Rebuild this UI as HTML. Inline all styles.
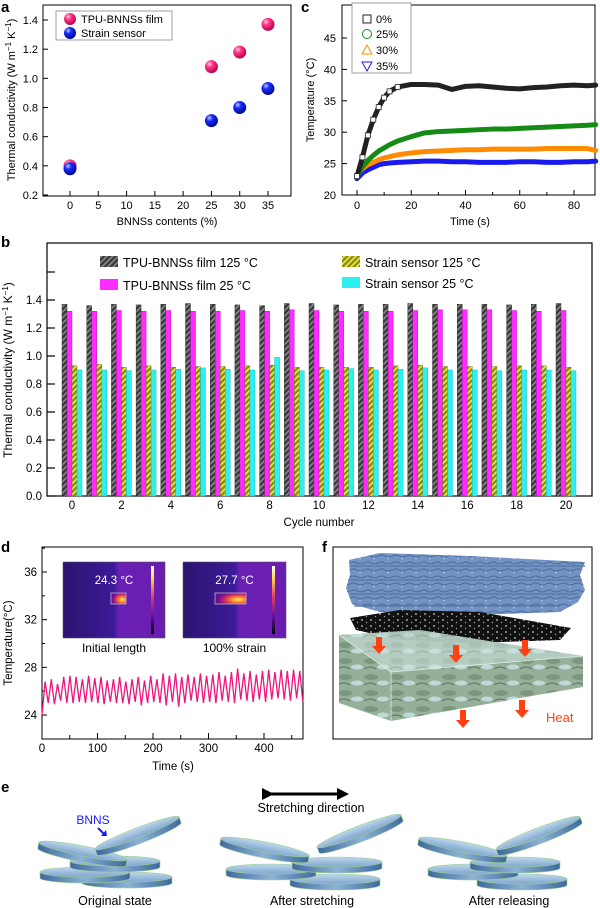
<!DOCTYPE html>
<html><head><meta charset="utf-8"><style>
html,body{margin:0;padding:0;background:#fff}
svg{display:block;font-family:"Liberation Sans",Arial,sans-serif}
</style></head><body>
<svg id="fig" width="600" height="908" viewBox="0 0 600 908" xmlns="http://www.w3.org/2000/svg">
<defs>
<radialGradient id="gPink" cx="35%" cy="30%" r="70%"><stop offset="0" stop-color="#ffd0e4"/><stop offset="0.35" stop-color="#ff3c8c"/><stop offset="1" stop-color="#c0004c"/></radialGradient>
<radialGradient id="gBlue" cx="35%" cy="30%" r="70%"><stop offset="0" stop-color="#c8d0ff"/><stop offset="0.35" stop-color="#1a2cff"/><stop offset="1" stop-color="#000a90"/></radialGradient>
<pattern id="hK" width="4" height="4" patternUnits="userSpaceOnUse" patternTransform="rotate(45)"><rect width="4" height="4" fill="#3a3a3a"/><rect width="1.6" height="4" fill="#8a8a8a"/></pattern>
<pattern id="hY" width="4" height="4" patternUnits="userSpaceOnUse" patternTransform="rotate(45)"><rect width="4" height="4" fill="#8c8a1c"/><rect width="1.6" height="4" fill="#f0ee40"/></pattern>
<linearGradient id="gIR" x1="0" x2="1"><stop offset="0" stop-color="#2a1470"/><stop offset="0.5" stop-color="#3c1a96"/><stop offset="0.55" stop-color="#6a20b4"/><stop offset="1" stop-color="#6a1cb0"/></linearGradient>
<linearGradient id="gCB" x1="0" y1="0" x2="0" y2="1"><stop offset="0" stop-color="#fffff0"/><stop offset="0.2" stop-color="#ffd040"/><stop offset="0.45" stop-color="#e04060"/><stop offset="0.75" stop-color="#6010a0"/><stop offset="1" stop-color="#000"/></linearGradient>
<radialGradient id="gHot" cx="75%" cy="60%" r="70%"><stop offset="0" stop-color="#fff080"/><stop offset="0.3" stop-color="#ff9020"/><stop offset="0.7" stop-color="#c02070"/><stop offset="1" stop-color="#601090"/></radialGradient>
<linearGradient id="gDisc" x1="0" y1="0" x2="0" y2="1"><stop offset="0" stop-color="#c0d8ee"/><stop offset="1" stop-color="#7ea6cc"/></linearGradient>
<linearGradient id="gDiscSide" x1="0" y1="0" x2="1" y2="0"><stop offset="0" stop-color="#3e6a9c"/><stop offset="0.5" stop-color="#8cb2d6"/><stop offset="1" stop-color="#3e6a9c"/></linearGradient>
<pattern id="pBlk" width="9" height="6" patternUnits="userSpaceOnUse"><rect width="9" height="6" fill="#111"/><circle cx="2" cy="2" r="0.9" fill="#ccc"/><circle cx="6.5" cy="4.5" r="0.7" fill="#999"/></pattern>
<pattern id="pBlue" width="14" height="7" patternUnits="userSpaceOnUse"><rect width="14" height="7" fill="#7393c4"/><path d="M0 3 q4 -2 7 0 t7 0" stroke="#4a6a9c" stroke-width="1" fill="none"/><circle cx="10" cy="5.5" r="1" fill="#a6bee0"/></pattern>
<pattern id="pGreen" width="26" height="16" patternUnits="userSpaceOnUse"><rect width="26" height="16" fill="#8aa68e"/><ellipse cx="7" cy="5" rx="7" ry="3" fill="#6e8a72"/><ellipse cx="19" cy="11" rx="6" ry="2.5" fill="#b4d6d2"/><path d="M0 13 q6 -4 12 0" stroke="#4a6250" stroke-width="1" fill="none"/></pattern>
<marker id="arrE" viewBox="0 0 10 10" refX="5" refY="5" markerWidth="4" markerHeight="4" orient="auto"><path d="M0 0L10 5L0 10z" fill="#000"/></marker>
</defs>

<g font-weight="bold" font-size="15">
<text x="1" y="12">a</text>
<text x="301" y="12">c</text>
<text x="1" y="247">b</text>
<text x="1" y="552">d</text>
<text x="322" y="552">f</text>
<text x="1" y="792">e</text>
</g>

<g id="pa"></g>
<g id="pc"></g>
<g id="pb"></g>
<g id="pd"></g>

<g>
<rect x="333" y="547" width="259" height="192" fill="#fff" stroke="#000" stroke-width="1"/>
<path d="M349 560 L380 553 L470 556 L585 562 L580 575 L585 590 L578 602 L560 612 L470 615 L380 612 L352 604 L346 588 L350 575 Z" fill="url(#pBlue)"/>
<path d="M350 566 L585 566 M348 580 L582 580 M350 594 L578 594 M354 606 L560 606" stroke="#5676a8" stroke-width="1.2" fill="none"/>
<path d="M350 618 L400 610 L480 612 L571 628 L560 640 L470 643 L400 640 L356 630 Z" fill="url(#pBlk)"/>
<path d="M339 635 L420 630 L583 656 L583 687 L391 721 L339 703 Z" fill="url(#pGreen)" opacity="0.9"/>
<path d="M339 635 L420 630 L583 656 L391 672 Z" fill="#cfe6e2" opacity="0.55"/>
<path d="M391 672 L583 656 M391 672 L339 635 M391 672 L391 721" stroke="#dfeee8" stroke-width="0.8" fill="none"/>
<g fill="#ff4012">
<path d="M376 637 h6 v9 h4 l-7 8 l-7 -8 h4 z"/>
<path d="M453 645 h6 v10 h4 l-7 8 l-7 -8 h4 z"/>
<path d="M522 640 h6 v9 h4 l-7 8 l-7 -8 h4 z"/>
<path d="M460 710 h6 v10 h4 l-7 8 l-7 -8 h4 z"/>
<path d="M519 700 h6 v10 h4 l-7 8 l-7 -8 h4 z"/>
</g>
<text x="546" y="722" font-size="13" fill="#ff4012">Heat</text>
</g>

<g id="pe">
<line x1="268" y1="794" x2="343" y2="794" stroke="#000" stroke-width="3" marker-start="url(#arrE)" marker-end="url(#arrE)"/>
<text x="311" y="812" font-size="12.5" text-anchor="middle">Stretching direction</text>
<text x="93" y="824" font-size="12" fill="#1a1aff" text-anchor="middle">BNNS</text>
<path d="M98 828 L104 834" stroke="#1a1aff" stroke-width="2"/><path d="M101 836 L107 836 L106 830 Z" fill="#1a1aff"/>
<text x="115" y="905" font-size="12.5" text-anchor="middle">Original state</text>
<text x="312" y="905" font-size="12.5" text-anchor="middle">After stretching</text>
<text x="509" y="905" font-size="12.5" text-anchor="middle">After releasing</text>
</g>

<script>
var NS='http://www.w3.org/2000/svg';
function mk(parent,tag,attrs,txt){var e=document.createElementNS(NS,tag);for(var k in attrs)e.setAttribute(k,attrs[k]);if(txt!=null)e.textContent=txt;parent.appendChild(e);return e;}
function unitTitle(t){
mk(t,'tspan',{},'Thermal conductivity (W m');
mk(t,'tspan',{dy:-4,'font-size':8},'−1');
mk(t,'tspan',{dy:4},' K');
mk(t,'tspan',{dy:-4,'font-size':8},'−1');
mk(t,'tspan',{dy:4},')');
}

/* ===== Panel a data ===== */
var aX=[0,25,30,35];
var aFilm=[0.40,1.08,1.18,1.37];
var aSensor=[0.38,0.71,0.80,0.93];
var aXTicks=[0,5,10,15,20,25,30,35];
var aYTicks=[0.2,0.4,0.6,0.8,1.0,1.2,1.4];

/* ===== Panel c data ===== */
var cT=[0,2,4,6,8,10,12,15,20,25,30,35,40,45,50,55,60,65,70,75,80,85,88];
var c0=[23,26,29.5,32,34,35.5,36.5,37.2,37.6,37.6,37.5,36.8,37.3,37.4,37.2,37.0,36.9,37.1,37.2,37.4,37.5,37.4,37.5];
var c25=[23,24.5,25.5,26.3,27,27.5,28,28.6,29.3,29.9,30.1,30.2,30.3,30.4,30.5,30.5,30.6,30.7,30.8,30.9,31.0,31.1,31.2];
var c30=[23.2,24.2,24.8,25.2,25.6,25.9,26.1,26.4,26.7,26.9,27.0,27.1,27.2,27.2,27.3,27.3,27.3,27.3,27.4,27.4,27.4,27.4,27.1];
var c35=[22.6,23.5,24.0,24.4,24.8,25.0,25.1,25.2,25.3,25.4,25.4,25.3,25.3,25.2,25.2,25.2,25.3,25.3,25.2,25.2,25.3,25.3,25.4];
var cXTicks=[0,20,40,60,80];
var cYTicks=[20,25,30,35,40,45];
var cLegend=['0%','25%','30%','35%'];

/* ===== Panel b data ===== */
var bCycles=[0,1,2,3,4,5,6,7,8,9,10,11,12,13,14,15,16,17,18,19,20];
var bFilm125=[1.37,1.36,1.37,1.365,1.37,1.375,1.37,1.365,1.36,1.375,1.375,1.365,1.37,1.37,1.375,1.37,1.37,1.37,1.365,1.37,1.375];
var bFilm25=[1.32,1.32,1.325,1.32,1.325,1.32,1.32,1.325,1.32,1.33,1.325,1.32,1.32,1.32,1.325,1.33,1.33,1.33,1.325,1.32,1.325];
var bSens125=[0.93,0.94,0.92,0.93,0.92,0.925,0.925,0.93,0.935,0.92,0.92,0.92,0.92,0.93,0.935,0.925,0.925,0.925,0.93,0.93,0.92];
var bSens25=[0.90,0.90,0.895,0.90,0.905,0.915,0.905,0.90,0.99,0.895,0.90,0.91,0.90,0.905,0.915,0.90,0.90,0.895,0.90,0.90,0.895];
var bXTicks=[0,2,4,6,8,10,12,14,16,18,20];
var bYTicks=[0.0,0.2,0.4,0.6,0.8,1.0,1.2,1.4];

/* ===== Panel d data ===== */
var dTemp=[24.0,26.8,25.0,27.0,24.9,26.6,25.2,27.2,25.0,27.3,25.0,27.2,25.1,27.0,25.0,27.3,25.1,27.1,25.0,27.2,24.9,26.9,25.1,27.0,25.0,27.2,25.0,26.8,24.9,27.0,25.1,27.2,24.8,26.9,25.0,27.3,25.1,27.0,25.0,27.5,24.8,27.3,25.1,27.5,24.7,27.2,25.0,27.4,25.2,27.2,25.1,27.5,25.0,27.3,25.1,27.4,25.0,27.6,25.2,27.3,25.1,27.6,25.0,27.9,25.3,27.5,25.2,27.7,25.1,27.4,25.3,27.7,25.1,27.8,25.3,27.6,25.4,27.8,25.3,27.7,25.2,27.8,25.4,27.7,25.1];
var dDuration=470;
var dXTicks=[0,100,200,300,400];
var dYTicks=[24,28,32,36];

/* ----- Panel a ----- */
(function(){
var g=document.getElementById('pa');
function X(v){return 70+v*(198/35);}
function Y(v){return 195-(v-0.2)*(175/1.2);}
var f=mk(g,'rect',{x:43,y:5,width:248,height:191,fill:'none',stroke:'#000','stroke-width':1});

aYTicks.forEach(function(v){mk(g,'line',{x1:43,x2:48,y1:Y(v),y2:Y(v),stroke:'#000'});
var t=mk(g,'text',{x:38,y:Y(v)+4,'font-size':11,'text-anchor':'end'},v.toFixed(1));
});
aXTicks.forEach(function(v){mk(g,'line',{x1:X(v),x2:X(v),y1:196,y2:191,stroke:'#000'});
var t=mk(g,'text',{x:X(v),y:209,'font-size':11,'text-anchor':'middle'},String(v));
});
var xt=mk(g,'text',{x:167,y:225,'font-size':11,'text-anchor':'middle'},'BNNSs contents (%)');

var yt=mk(g,'text',{'font-size':11,'text-anchor':'middle',transform:'translate(15,100) rotate(-90)'});

unitTitle(yt);
aX.forEach(function(x,i){var c=mk(g,'circle',{cx:X(x),cy:Y(aFilm[i]),r:6.5,fill:'url(#gPink)'});
});
aX.forEach(function(x,i){var c=mk(g,'circle',{cx:X(x),cy:Y(aSensor[i]),r:6.5,fill:'url(#gBlue)'});
});
var lg=mk(g,'g',{});
mk(lg,'rect',{x:56,y:11,width:116,height:29,fill:'#fff',stroke:'#888','stroke-width':0.8});
mk(lg,'circle',{cx:70,cy:19,r:6,fill:'url(#gPink)'});
mk(lg,'text',{x:81,y:23,'font-size':11},'TPU-BNNSs film');
mk(lg,'circle',{cx:70,cy:33,r:6,fill:'url(#gBlue)'});
mk(lg,'text',{x:81,y:37,'font-size':11},'Strain sensor');
})();

/* ----- Panel c ----- */
(function(){
var g=document.getElementById('pc');
function X(v){return 357+v*(217/80);}
function Y(v){return 195-(v-20)*(157/25);}
var f=mk(g,'rect',{x:342,y:5,width:253,height:190,fill:'none',stroke:'#000'});

cYTicks.forEach(function(v){mk(g,'line',{x1:342,x2:347,y1:Y(v),y2:Y(v),stroke:'#000'});
var t=mk(g,'text',{x:336,y:Y(v)+4,'font-size':11,'text-anchor':'end'},String(v));
});
cXTicks.forEach(function(v){mk(g,'line',{x1:X(v),x2:X(v),y1:195,y2:190,stroke:'#000'});
mk(g,'line',{x1:X(v+10),x2:X(v+10),y1:195,y2:192,stroke:'#000'});
var t=mk(g,'text',{x:X(v),y:209,'font-size':11,'text-anchor':'middle'},String(v));
});
var xt=mk(g,'text',{x:470,y:225,'font-size':11,'text-anchor':'middle'},'Time (s)');

var yt=mk(g,'text',{'font-size':11,'text-anchor':'middle',transform:'translate(314,100) rotate(-90)'},'Temperature (°C)');

var series=[[c0,'#222'],[c25,'#158a15'],[c30,'#ff8c00'],[c35,'#1a1aee']];
series.slice().reverse().forEach(function(s){var pts=cT.map(function(t,j){return X(t)+','+Y(s[0][j]);}).join(' ');
var p=mk(g,'polyline',{points:pts,fill:'none',stroke:s[1],'stroke-width':5,'stroke-linejoin':'round','stroke-linecap':'round'});
});
cT.forEach(function(t,j){if(t<=15){var q=mk(g,'rect',{x:X(t)-2.5,y:Y(c0[j])-2.5,width:5,height:5,fill:'#fff',stroke:'#222','stroke-width':0.8});
}});
var lg=mk(g,'g',{});
mk(lg,'rect',{x:352,y:3,width:59,height:70,fill:'#fff',stroke:'#888','stroke-width':0.8});
var ly=[19,34,50,66];
mk(lg,'rect',{x:363,y:ly[0]-4,width:8,height:8,fill:'none',stroke:'#222'});
mk(lg,'circle',{cx:367,cy:ly[1],r:4.5,fill:'none',stroke:'#158a15'});
mk(lg,'path',{d:'M362 '+(ly[2]+4)+' L367 '+(ly[2]-5)+' L372 '+(ly[2]+4)+' Z',fill:'none',stroke:'#ff8c00'});
mk(lg,'path',{d:'M362 '+(ly[3]-4)+' L367 '+(ly[3]+5)+' L372 '+(ly[3]-4)+' Z',fill:'none',stroke:'#1a1aee'});
cLegend.forEach(function(s,i){mk(lg,'text',{x:376,y:ly[i]+4,'font-size':11},s);});
})();

/* ----- Panel b ----- */
(function(){
var g=document.getElementById('pb');
var x0=72,dx=(566-72)/20,bw=5;
function X(c){return x0+c*dx;}
function Y(v){return 496-v*(196/1.4);}
var f=mk(g,'rect',{x:47,y:243,width:545,height:253,fill:'none',stroke:'#000','stroke-width':1.2});

bYTicks.forEach(function(v){mk(g,'line',{x1:47,x2:55,y1:Y(v),y2:Y(v),stroke:'#000','stroke-width':1.2});
var t=mk(g,'text',{x:42,y:Y(v)+4,'font-size':11.5,'text-anchor':'end'},v.toFixed(1));
});
mk(g,'line',{x1:47,x2:55,y1:Y(1.6),y2:Y(1.6),stroke:'#000','stroke-width':1.2});
var sets=[[bFilm125,'url(#hK)','#222','bar-film-125'],[bFilm25,'#ff2cff','#b000b0','bar-film-25'],[bSens125,'url(#hY)','#6a6a10','bar-sensor-125'],[bSens25,'#2ef0f0','#10b0b0','bar-sensor-25']];
bCycles.forEach(function(c){sets.forEach(function(s,k){var v=s[0][c];
var r=mk(g,'rect',{x:X(c)-2*bw+k*bw,y:Y(v),width:bw,height:Y(0)-Y(v),fill:s[1],stroke:s[2],'stroke-width':0.4});
});});
bXTicks.forEach(function(v){var t=mk(g,'text',{x:X(v),y:509,'font-size':11.5,'text-anchor':'middle'},String(v));
});
var xt=mk(g,'text',{x:319,y:526,'font-size':11.5,'text-anchor':'middle'},'Cycle number');

var yt=mk(g,'text',{'font-size':12,'text-anchor':'middle',transform:'translate(12,370) rotate(-90)'});

unitTitle(yt);
var lg=mk(g,'g',{});
var items=[[100,262,'url(#hK)','TPU-BNNSs film 125 °C'],[100,285,'#ff2cff','TPU-BNNSs film 25 °C'],[342,262,'url(#hY)','Strain sensor 125 °C'],[342,283,'#2ef0f0','Strain sensor 25 °C']];
items.forEach(function(it){mk(lg,'rect',{x:it[0],y:it[1]-6,width:18,height:11,fill:it[2]});
mk(lg,'text',{x:it[0]+23,y:it[1]+5,'font-size':12.5},it[3]);});
})();

/* ----- Panel d ----- */
(function(){
var g=document.getElementById('pd');
function X(v){return 42+v*(222/400);}
function Y(v){return 572+(36-v)*(143/12);}
var f=mk(g,'rect',{x:42,y:547,width:261,height:192,fill:'none',stroke:'#000'});

dYTicks.forEach(function(v){mk(g,'line',{x1:42,x2:47,y1:Y(v),y2:Y(v),stroke:'#000'});
mk(g,'line',{x1:42,x2:45,y1:Y(v+2),y2:Y(v+2),stroke:'#000'});
var t=mk(g,'text',{x:37,y:Y(v)+4,'font-size':11.5,'text-anchor':'end'},String(v));
});
dXTicks.forEach(function(v){mk(g,'line',{x1:X(v),x2:X(v),y1:739,y2:733,stroke:'#000'});
mk(g,'line',{x1:X(v+50),x2:X(v+50),y1:739,y2:735,stroke:'#000'});
var t=mk(g,'text',{x:X(v),y:752,'font-size':11.5,'text-anchor':'middle'},String(v));
});
var xt=mk(g,'text',{x:173,y:770,'font-size':11.5,'text-anchor':'middle'},'Time (s)');

var yt=mk(g,'text',{'font-size':11.5,'text-anchor':'middle',transform:'translate(12,643) rotate(-90)'},'Temperature(°C)');

var n=dTemp.length;
var pts=dTemp.map(function(v,i){return X(i*dDuration/(n-1))+','+Y(v);}).join(' ');
var p=mk(g,'polyline',{points:pts,fill:'none',stroke:'#f0147c','stroke-width':1.3});

[[63,102,111,126,'24.3 °C','Initial length','inset-initial-length'],[183,103,215,246,'27.7 °C','100% strain','inset-100-strain']].forEach(function(s){
var ig=mk(g,'g',{});
mk(ig,'rect',{x:s[0],y:562,width:s[1],height:76,fill:'url(#gIR)',stroke:'#555','stroke-width':0.6});
mk(ig,'rect',{x:s[2],y:593,width:s[3]-s[2],height:11,fill:'url(#gHot)',stroke:'#ccc','stroke-width':0.7});
mk(ig,'rect',{x:s[0]+s[1]-14,y:566,width:3,height:68,fill:'url(#gCB)'});
mk(ig,'text',{x:s[0]+s[1]/2,y:584,'font-size':11.5,fill:'#fff','text-anchor':'middle'},s[4]);
mk(ig,'text',{x:s[0]+s[1]/2,y:652,'font-size':12,'text-anchor':'middle'},s[5]);});
})();

/* ----- Panel e discs ----- */
(function(){
var g=document.getElementById('pe');
var discs=[
[127,877,0],[85,872,0],[115,861,0],[83,851,11],[137,833,-21],
[335,879,0],[271,869,0],[337,862,0],[265,847,11],[359,831,-21],
[522,879,0],[473,869,0],[515,862,0],[463,847,11],[538,833,-21]];
discs.forEach(function(d){var dg=mk(g,'g',{transform:'translate('+d[0]+','+d[1]+') rotate('+d[2]+')'});

mk(dg,'path',{d:'M-45 0 v6 a45 5 0 0 0 90 0 v-6 z',fill:'url(#gDiscSide)',stroke:'#9fd08a','stroke-width':0.6});
mk(dg,'ellipse',{cx:0,cy:0,rx:45,ry:5,fill:'url(#gDisc)',stroke:'#9fd08a','stroke-width':0.6});});
})();
</script>
</svg>
</body></html>
